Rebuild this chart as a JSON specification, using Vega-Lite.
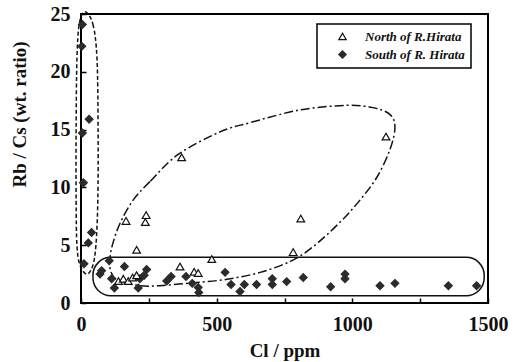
{
  "$schema": "https://vega.github.io/schema/vega-lite/v6.json",
  "width": 407,
  "height": 289,
  "autosize": {"type": "none"},
  "padding": {"left": 81, "top": 14, "right": 27, "bottom": 59},
  "background": "white",
  "config": {
    "view": {"stroke": "black", "strokeWidth": 2},
    "font": "Liberation Serif",
    "axis": {
      "domain": false,
      "grid": false,
      "tickColor": "black",
      "tickWidth": 1.5,
      "tickSize": -5,
      "labelFont": "Liberation Serif",
      "labelFontSize": 20,
      "labelFontWeight": "bold",
      "labelColor": "#111",
      "titleFont": "Liberation Serif",
      "titleFontSize": 19,
      "titleFontWeight": "bold",
      "titleColor": "#111"
    },
    "legend": {
      "orient": "none",
      "legendX": 236,
      "legendY": 10,
      "strokeColor": "black",
      "strokeWidth": 1.5,
      "fillColor": "white",
      "padding": 6,
      "labelFont": "Liberation Serif",
      "labelFontStyle": "italic",
      "labelFontWeight": "bold",
      "labelFontSize": 13,
      "labelColor": "#111",
      "labelOffset": 16,
      "symbolOffset": 13,
      "rowPadding": 4,
      "symbolSize": 55,
      "symbolStrokeWidth": 1.2
    }
  },
  "datasets": {
    "points": [
      {"s": "South of R. Hirata", "x": 5, "y": 24.1},
      {"s": "South of R. Hirata", "x": 3, "y": 22.2},
      {"s": "South of R. Hirata", "x": 30, "y": 15.9},
      {"s": "South of R. Hirata", "x": 5, "y": 14.7},
      {"s": "South of R. Hirata", "x": 9, "y": 10.4},
      {"s": "South of R. Hirata", "x": 39, "y": 6.1},
      {"s": "South of R. Hirata", "x": 27, "y": 5.2},
      {"s": "South of R. Hirata", "x": 11, "y": 3.4},
      {"s": "South of R. Hirata", "x": 70, "y": 2.5},
      {"s": "South of R. Hirata", "x": 76, "y": 2.8},
      {"s": "South of R. Hirata", "x": 104, "y": 3.65},
      {"s": "South of R. Hirata", "x": 113, "y": 2.1},
      {"s": "South of R. Hirata", "x": 123, "y": 1.3},
      {"s": "South of R. Hirata", "x": 160, "y": 3.15},
      {"s": "South of R. Hirata", "x": 211, "y": 1.3},
      {"s": "South of R. Hirata", "x": 217, "y": 2.1},
      {"s": "South of R. Hirata", "x": 233, "y": 2.4},
      {"s": "South of R. Hirata", "x": 242, "y": 2.9},
      {"s": "South of R. Hirata", "x": 316, "y": 1.9},
      {"s": "South of R. Hirata", "x": 332, "y": 2.3},
      {"s": "South of R. Hirata", "x": 387, "y": 2.3},
      {"s": "South of R. Hirata", "x": 410, "y": 1.7},
      {"s": "South of R. Hirata", "x": 432, "y": 1.35},
      {"s": "South of R. Hirata", "x": 434, "y": 0.9},
      {"s": "South of R. Hirata", "x": 531, "y": 2.65},
      {"s": "South of R. Hirata", "x": 553, "y": 1.6},
      {"s": "South of R. Hirata", "x": 586, "y": 1.0},
      {"s": "South of R. Hirata", "x": 602, "y": 1.6},
      {"s": "South of R. Hirata", "x": 647, "y": 1.6},
      {"s": "South of R. Hirata", "x": 705, "y": 2.1},
      {"s": "South of R. Hirata", "x": 705, "y": 1.6},
      {"s": "South of R. Hirata", "x": 758, "y": 1.85},
      {"s": "South of R. Hirata", "x": 819, "y": 2.2},
      {"s": "South of R. Hirata", "x": 920, "y": 1.4},
      {"s": "South of R. Hirata", "x": 973, "y": 2.5},
      {"s": "South of R. Hirata", "x": 973, "y": 2.1},
      {"s": "South of R. Hirata", "x": 1102, "y": 1.5},
      {"s": "South of R. Hirata", "x": 1157, "y": 1.7},
      {"s": "South of R. Hirata", "x": 1354, "y": 1.5},
      {"s": "South of R. Hirata", "x": 1458, "y": 1.5},
      {"s": "North of R.Hirata", "x": 1124, "y": 14.4},
      {"s": "North of R.Hirata", "x": 371, "y": 12.6},
      {"s": "North of R.Hirata", "x": 810, "y": 7.3},
      {"s": "North of R.Hirata", "x": 240, "y": 7.6},
      {"s": "North of R.Hirata", "x": 237, "y": 7.0},
      {"s": "North of R.Hirata", "x": 166, "y": 7.1},
      {"s": "North of R.Hirata", "x": 205, "y": 4.6},
      {"s": "North of R.Hirata", "x": 782, "y": 4.4},
      {"s": "North of R.Hirata", "x": 482, "y": 3.8},
      {"s": "North of R.Hirata", "x": 365, "y": 3.15},
      {"s": "North of R.Hirata", "x": 417, "y": 2.7},
      {"s": "North of R.Hirata", "x": 432, "y": 2.6},
      {"s": "North of R.Hirata", "x": 138, "y": 1.9},
      {"s": "North of R.Hirata", "x": 156, "y": 2.1},
      {"s": "North of R.Hirata", "x": 174, "y": 1.9},
      {"s": "North of R.Hirata", "x": 190, "y": 2.2},
      {"s": "North of R.Hirata", "x": 205, "y": 2.4}
    ],
    "vellipse": [
      {"i": 0, "x": 15, "y": 25.2},
      {"i": 1, "x": 44, "y": 24.1},
      {"i": 2, "x": 59, "y": 21.1},
      {"i": 3, "x": 63, "y": 15.0},
      {"i": 4, "x": 62, "y": 8.9},
      {"i": 5, "x": 55, "y": 5.0},
      {"i": 6, "x": 43, "y": 3.2},
      {"i": 7, "x": 21, "y": 2.5},
      {"i": 8, "x": -4, "y": 3.3},
      {"i": 9, "x": -15, "y": 5.0},
      {"i": 10, "x": -18, "y": 8.9},
      {"i": 11, "x": -18, "y": 15.0},
      {"i": 12, "x": -15, "y": 21.1},
      {"i": 13, "x": -6, "y": 24.2}
    ],
    "loop": [
      {"i": 0, "x": 358, "y": 12.85},
      {"i": 1, "x": 254, "y": 10.5},
      {"i": 2, "x": 192, "y": 8.9},
      {"i": 3, "x": 144, "y": 6.9},
      {"i": 4, "x": 118, "y": 5.2},
      {"i": 5, "x": 107, "y": 3.9},
      {"i": 6, "x": 110, "y": 2.7},
      {"i": 7, "x": 140, "y": 1.9},
      {"i": 8, "x": 217, "y": 1.5},
      {"i": 9, "x": 291, "y": 1.5},
      {"i": 10, "x": 413, "y": 1.75},
      {"i": 11, "x": 538, "y": 2.05},
      {"i": 12, "x": 660, "y": 2.65},
      {"i": 13, "x": 771, "y": 3.6},
      {"i": 14, "x": 855, "y": 4.86},
      {"i": 15, "x": 955, "y": 7.0},
      {"i": 16, "x": 1028, "y": 8.9},
      {"i": 17, "x": 1091, "y": 10.9},
      {"i": 18, "x": 1139, "y": 13.3},
      {"i": 19, "x": 1157, "y": 15.2},
      {"i": 20, "x": 1139, "y": 16.3},
      {"i": 21, "x": 1076, "y": 16.9},
      {"i": 22, "x": 980, "y": 17.1},
      {"i": 23, "x": 807, "y": 16.7},
      {"i": 24, "x": 623, "y": 15.6},
      {"i": 25, "x": 512, "y": 14.8}
    ],
    "box": [
      {"x": 44, "x2": 1486, "y": 0.63, "y2": 3.95}
    ]
  },
  "encoding": {
    "x": {
      "field": "x",
      "type": "quantitative",
      "scale": {"domain": [0, 1500], "nice": false, "zero": false},
      "axis": {
        "title": "Cl / ppm",
        "format": "d",
        "values": [0, 250, 500, 750, 1000, 1250, 1500],
        "labelExpr": "datum.value % 500 === 0 ? datum.label : ''",
        "labelPadding": 16,
        "labelFlush": false,
        "titleY": 47,
        "titleBaseline": "middle"
      }
    },
    "y": {
      "field": "y",
      "type": "quantitative",
      "scale": {"domain": [0, 25], "nice": false, "zero": false},
      "axis": {
        "title": "Rb / Cs (wt. ratio)",
        "values": [0, 5, 10, 15, 20, 25],
        "labelPadding": 16,
        "labelFlush": false,
        "titleX": -62,
        "titleY": 100,
        "titleAngle": -90,
        "titleAlign": "center",
        "titleBaseline": "middle"
      }
    }
  },
  "layer": [
    {
      "data": {"name": "box"},
      "mark": {"type": "rect", "filled": false, "stroke": "#111", "strokeWidth": 1.5, "cornerRadius": 18},
      "encoding": {
        "x2": {"field": "x2"},
        "y2": {"field": "y2"}
      }
    },
    {
      "data": {"name": "vellipse"},
      "mark": {"type": "line", "interpolate": "cardinal-closed", "stroke": "#111", "strokeWidth": 1.5, "strokeDash": [4, 2.5]},
      "encoding": {"order": {"field": "i", "type": "quantitative"}}
    },
    {
      "data": {"name": "loop"},
      "mark": {"type": "line", "interpolate": "cardinal-closed", "stroke": "#111", "strokeWidth": 1.5, "strokeDash": [9, 3, 2, 3]},
      "encoding": {"order": {"field": "i", "type": "quantitative"}}
    },
    {
      "data": {"name": "points"},
      "mark": {"type": "point", "size": 60, "strokeWidth": 1.2, "opacity": 1},
      "encoding": {
        "shape": {
          "field": "s",
          "type": "nominal",
          "title": null,
          "scale": {"domain": ["North of R.Hirata", "South of R. Hirata"], "range": ["triangle-up", "diamond"]}
        },
        "fill": {
          "field": "s",
          "type": "nominal",
          "title": null,
          "scale": {"domain": ["North of R.Hirata", "South of R. Hirata"], "range": ["white", "#2b2b2b"]}
        },
        "stroke": {
          "field": "s",
          "type": "nominal",
          "title": null,
          "scale": {"domain": ["North of R.Hirata", "South of R. Hirata"], "range": ["#111", "#2b2b2b"]}
        }
      }
    }
  ]
}
